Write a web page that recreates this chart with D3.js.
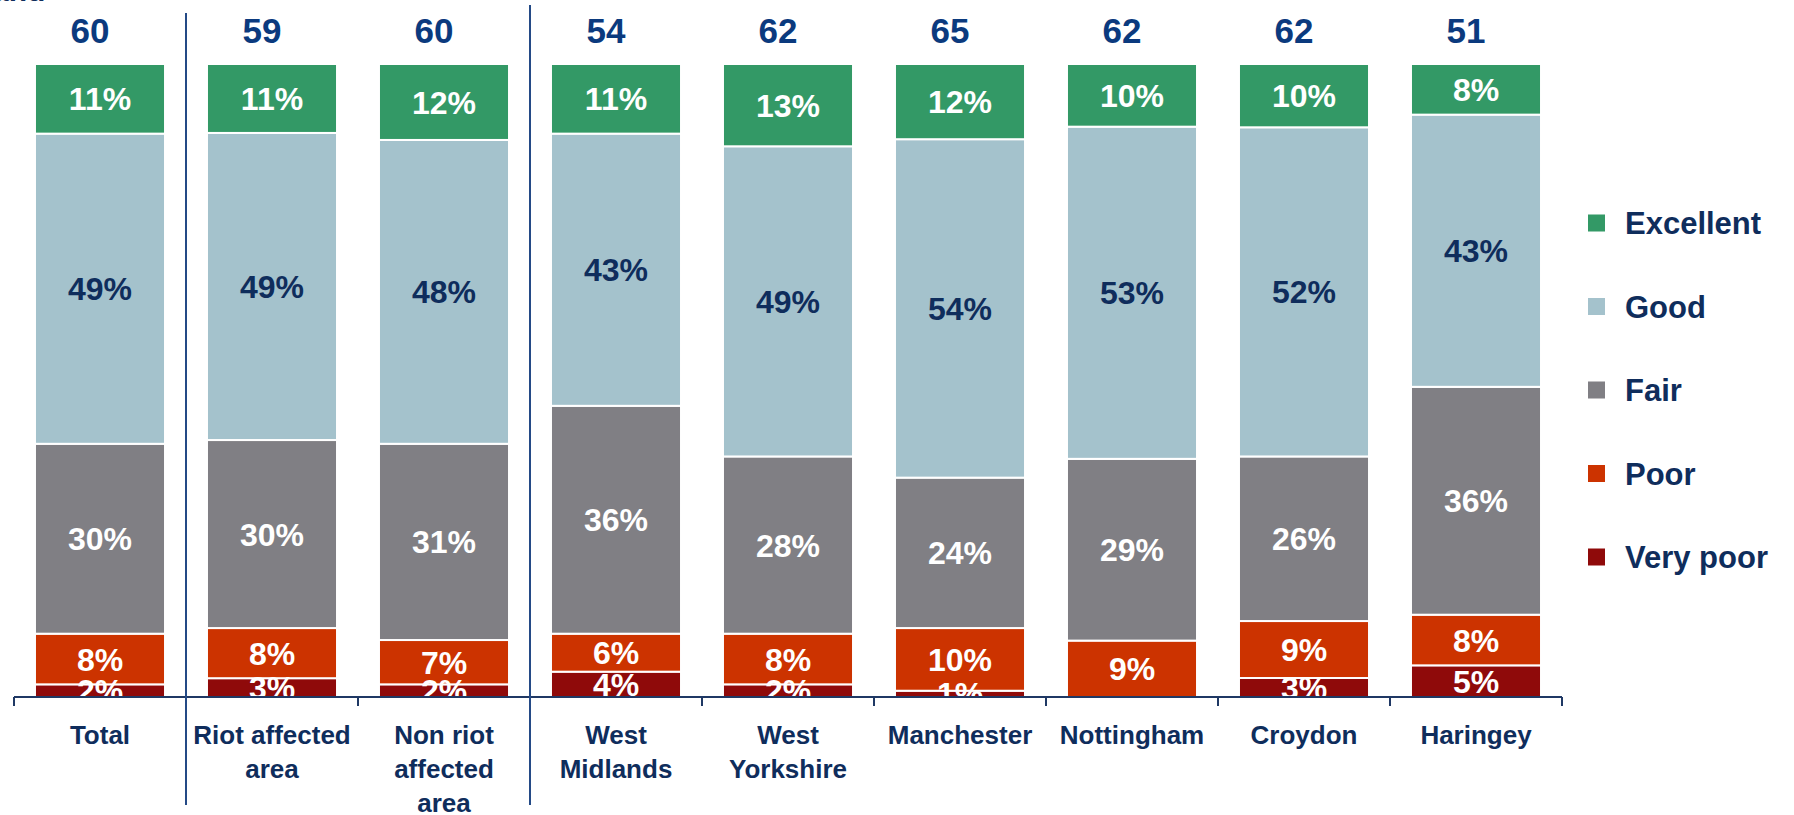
<!DOCTYPE html>
<html>
<head>
<meta charset="utf-8">
<script src="https://cdn.jsdelivr.net/npm/d3@7"></script>
<style>
  body { margin: 0; background: #fff; }
  svg { display: block; font-family: "Liberation Sans", Arial, sans-serif; font-weight: bold; }
</style>
</head>
<body>
<div id="chart"></div>
<script>
var categories = ["Total", "Riot affected\narea", "Non riot\naffected\narea", "West\nMidlands", "West\nYorkshire", "Manchester", "Nottingham", "Croydon", "Haringey"];
var topValues = [60, 59, 60, 54, 62, 65, 62, 62, 51];
var excellent = [11, 11, 12, 11, 13, 12, 10, 10, 8];
var good      = [49, 49, 48, 43, 49, 54, 53, 52, 43];
var fair      = [30, 30, 31, 36, 28, 24, 29, 26, 36];
var poor      = [8, 8, 7, 6, 8, 10, 9, 9, 8];
var veryPoor  = [2, 3, 2, 4, 2, 1, 0, 3, 5];
var seriesNames = ["Excellent", "Good", "Fair", "Poor", "Very poor"];
// group separators sit before these categories
var groupStarts = [1, 3];

var width = 1794, height = 815;
var navy = "#0f2d5c";
var colors = {"Excellent": "#339966", "Good": "#a4c2cc", "Fair": "#807f84", "Poor": "#cc3300", "Very poor": "#8f0a0a"};
var textColors = {"Excellent": "#fff", "Good": navy, "Fair": "#fff", "Poor": "#fff", "Very poor": "#fff"};

var rows = categories.map(function(c, i) {
  return {cat: c, "Excellent": excellent[i], "Good": good[i], "Fair": fair[i], "Poor": poor[i], "Very poor": veryPoor[i]};
});

var svg = d3.select("#chart").append("svg")
  .attr("width", width)
  .attr("height", height);

var x = d3.scaleBand().domain(categories).range([14, 1562]).paddingInner(0.244).paddingOuter(0.122);
var y = d3.scaleLinear().domain([0, 1]).range([697, 64]);

var stack = d3.stack()
  .keys(seriesNames.slice().reverse())
  .offset(d3.stackOffsetExpand);
var layers = stack(rows);

// cut-off title fragment at the very top
svg.append("text")
  .attr("x", -8).attr("y", 1)
  .attr("fill", navy)
  .style("font-size", "30px")
  .text("and");

svg.append("defs").append("clipPath").attr("id", "plotclip")
  .append("rect").attr("x", 0).attr("y", 0).attr("width", width).attr("height", 697);

var layer = svg.append("g").selectAll(".layer")
  .data(layers)
  .enter().append("g")
    .attr("class", "layer")
    .attr("fill", function(d) { return colors[d.key]; });

layer.selectAll("rect")
  .data(function(d) { return d; })
  .enter().append("rect")
    .attr("x", function(d) { return x(d.data.cat); })
    .attr("y", function(d) { return y(d[1]); })
    .attr("height", function(d) { return y(d[0]) - y(d[1]); })
    .attr("width", x.bandwidth())
    .attr("stroke", "#fff")
    .attr("stroke-width", 2);

var labels = svg.append("g").attr("clip-path", "url(#plotclip)");
layers.forEach(function(l) {
  labels.selectAll(null)
    .data(l.filter(function(d) { return d.data[l.key] > 0; }))
    .enter().append("text")
      .attr("x", function(d) { return x(d.data.cat) + x.bandwidth() / 2; })
      .attr("y", function(d) { return (y(d[0]) + y(d[1])) / 2; })
      .attr("dy", "0.36em")
      .attr("text-anchor", "middle")
      .attr("fill", textColors[l.key])
      .style("font-size", "32px")
      .text(function(d) { return d.data[l.key] + "%"; });
});

// top numbers
svg.append("g").selectAll("text")
  .data(categories)
  .enter().append("text")
    .attr("x", function(d) { return x(d) + x.bandwidth() / 2 - 10; })
    .attr("y", 43)
    .attr("text-anchor", "middle")
    .attr("fill", "#0b3a7e")
    .style("font-size", "35px")
    .text(function(d, i) { return topValues[i]; });

// x axis: line with ticks at category boundaries
var half = (x.step() - x.bandwidth()) / 2;
var bounds = categories.map(function(d) { return x(d) - half; });
bounds.push(x(categories[categories.length - 1]) + x.bandwidth() + half);

var axis = svg.append("g").attr("stroke", "#1f3864").attr("stroke-width", 2);
axis.append("line")
  .attr("x1", bounds[0]).attr("x2", bounds[bounds.length - 1])
  .attr("y1", 697).attr("y2", 697);
axis.selectAll(".tick")
  .data(bounds)
  .enter().append("line")
    .attr("class", "tick")
    .attr("x1", function(d) { return d; }).attr("x2", function(d) { return d; })
    .attr("y1", 697).attr("y2", 706);

// group separators
svg.append("g").selectAll("line")
  .data(groupStarts)
  .enter().append("line")
    .attr("x1", function(i) { return bounds[i]; })
    .attr("x2", function(i) { return bounds[i]; })
    .attr("y1", function(i, k) { return k === 0 ? 13 : 5; })
    .attr("y2", 805)
    .attr("stroke", "#244a86")
    .attr("stroke-width", 2);

// category labels
var catLabels = svg.append("g").selectAll("text")
  .data(categories)
  .enter().append("text")
    .attr("text-anchor", "middle")
    .attr("fill", navy)
    .style("font-size", "26px")
    .attr("transform", function(d) { return "translate(" + (x(d) + x.bandwidth() / 2) + ",744)"; });
catLabels.selectAll("tspan")
  .data(function(d) { return d.split("\n"); })
  .enter().append("tspan")
    .attr("x", 0)
    .attr("y", function(d, i) { return i * 34; })
    .text(function(d) { return d; });

// legend
var legend = svg.append("g").selectAll("g")
  .data(seriesNames)
  .enter().append("g")
    .attr("transform", function(d, i) { return "translate(1588," + (223 + i * 83.5) + ")"; });
legend.append("rect")
  .attr("x", 0).attr("y", -8.5)
  .attr("width", 17).attr("height", 17)
  .attr("fill", function(d) { return colors[d]; });
legend.append("text")
  .attr("x", 37).attr("dy", "0.36em")
  .attr("fill", navy)
  .style("font-size", "31px")
  .text(function(d) { return d; });
</script>
</body>
</html>
